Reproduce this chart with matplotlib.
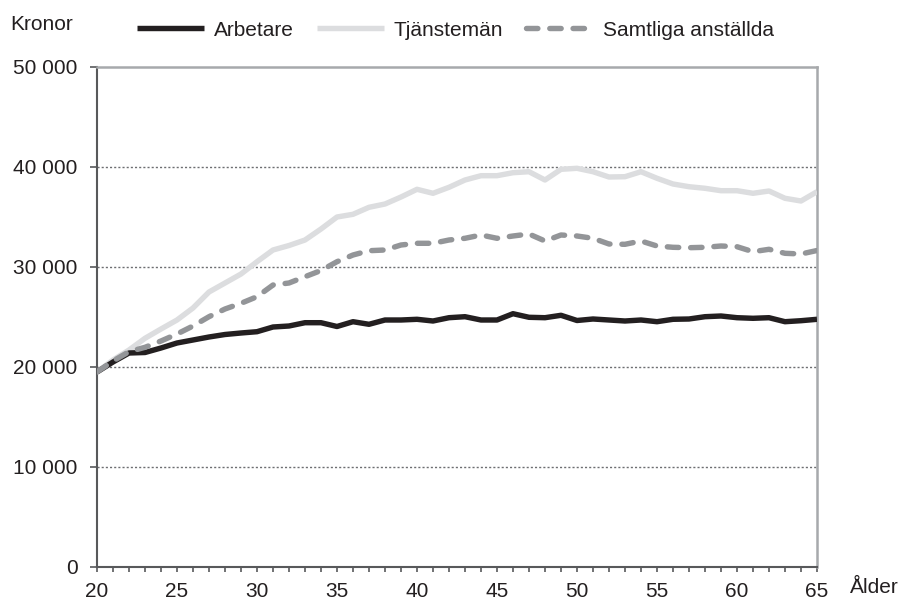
import matplotlib
matplotlib.use("Agg")
import matplotlib.pyplot as plt
from matplotlib.ticker import MultipleLocator, FuncFormatter

ages = list(range(20, 66))
arbetare = [19500, 20500, 21400, 21450, 21900, 22400, 22700, 23000, 23250, 23400,
            23530, 24000, 24100, 24430, 24430, 24050, 24530, 24270, 24700, 24700,
            24770, 24600, 24930, 25030, 24700, 24700, 25330, 24970, 24930, 25170,
            24650, 24800, 24700, 24600, 24700, 24530, 24770, 24800, 25030, 25100,
            24930, 24870, 24930, 24530, 24630, 24770]
tjansteman = [19500, 20700, 21700, 22870, 23800, 24700, 25900, 27500, 28400, 29300,
              30530, 31700, 32150, 32700, 33800, 35000, 35270, 35970, 36300, 37000,
              37770, 37370, 37970, 38700, 39130, 39130, 39430, 39530, 38700, 39770,
              39870, 39530, 39000, 39030, 39530, 38870, 38300, 38030, 37870, 37630,
              37630, 37370, 37600, 36870, 36600, 37530]
samtliga = [19500, 20600, 21530, 21970, 22600, 23300, 24100, 25030, 25800, 26370,
            27030, 28200, 28400, 29030, 29650, 30530, 31200, 31630, 31700, 32200,
            32370, 32370, 32700, 32870, 33200, 32870, 33100, 33300, 32600, 33200,
            33100, 32870, 32300, 32270, 32600, 32100, 31970, 31930, 31970, 32100,
            32030, 31530, 31770, 31370, 31300, 31650]
labels = ["Arbetare", "Tjänstemän", "Samtliga anställda"]
yticks = [0, 10000, 20000, 30000, 40000, 50000]

plt.rcParams['font.family'] = ['Liberation Sans', 'DejaVu Sans']
FS = 15

fig = plt.figure(figsize=(9.04, 6.03), dpi=100)
ax = fig.add_axes([97/904, 36/603, 720/904, 500/603])

l_t, = ax.plot(ages, tjansteman, color='#dcdddf', lw=3.9, zorder=3,
               solid_capstyle='butt', label=labels[1])
l_a, = ax.plot(ages, arbetare, color='#231f20', lw=3.9, zorder=4,
               solid_capstyle='butt', label=labels[0])
l_s, = ax.plot(ages, samtliga, color='#939598', lw=3.9, zorder=5,
               dashes=(2.1, 2.2), dash_capstyle='round', label=labels[2])

ax.set_xlim(20, 65)
ax.set_ylim(0, 50000)
ax.set_yticks(yticks)
ax.yaxis.set_major_formatter(FuncFormatter(lambda v, p: f"{int(v):,}".replace(",", " ")))
ax.xaxis.set_major_locator(MultipleLocator(5))
ax.xaxis.set_minor_locator(MultipleLocator(1))

for y in yticks[1:-1]:
    ax.axhline(y, color='#6d6e71', lw=1.0, linestyle=(0, (1.5, 1.5)), zorder=1)

for s in ['left', 'bottom']:
    ax.spines[s].set_color('#58595b')
    ax.spines[s].set_linewidth(1.5)
for s in ['top', 'right']:
    ax.spines[s].set_color('#a7a9ac')
    ax.spines[s].set_linewidth(1.8)

ax.tick_params(axis='y', length=5, width=1.2, color='#58595b', pad=9, labelsize=FS,
               labelcolor='#231f20')
ax.tick_params(axis='x', which='both', length=3.6, width=1.2, color='#58595b', pad=7.5,
               labelsize=FS, labelcolor='#231f20')

fig.text(10/904, 1 - 25/603, "Kronor", fontsize=FS, va='center', ha='left', color='#231f20')
fig.text(850/904, 1 - 593/603, "Ålder", fontsize=FS, va='baseline', ha='left', color='#231f20')

leg = ax.legend(handles=[l_a, l_t, l_s], ncol=3, frameon=False, fontsize=FS,
                loc='center left', bbox_to_anchor=(137/904, 1 - 30/603),
                bbox_transform=fig.transFigure, handlelength=3.2, handletextpad=0.5,
                columnspacing=1.1, borderpad=0, borderaxespad=0)
for t in leg.get_texts():
    t.set_color('#231f20')

fig.savefig("out.png", dpi=100)
